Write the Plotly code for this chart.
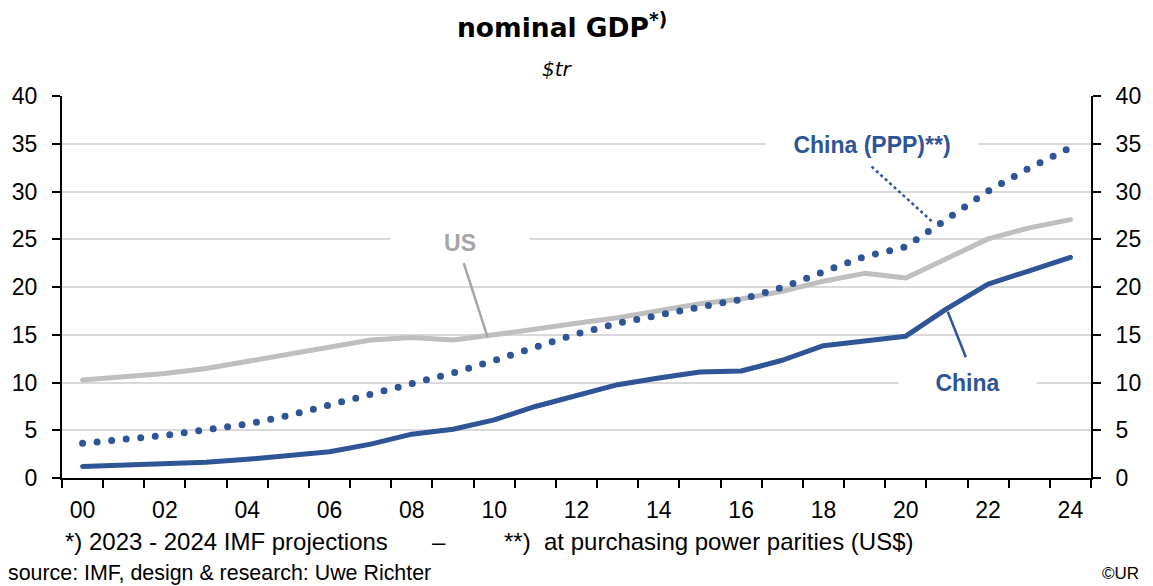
import plotly.graph_objects as go

# Nominal GDP, $ trillion (2023-2024: IMF projections)
years = list(range(2000, 2025))
us_gdp = [10.25, 10.58, 10.94, 11.46, 12.21, 13.04, 13.82, 14.45, 14.71, 14.45,
          14.99, 15.54, 16.20, 16.78, 17.53, 18.24, 18.75, 19.54, 20.61, 21.43,
          20.94, 23.00, 25.04, 26.19, 27.06]
china_gdp = [1.21, 1.34, 1.47, 1.66, 1.96, 2.29, 2.75, 3.55, 4.59, 5.10,
             6.09, 7.49, 8.57, 9.77, 10.48, 11.10, 11.20, 12.33, 13.85, 14.34,
             14.85, 17.73, 20.30, 21.70, 23.10]
china_ppp = [3.63, 4.02, 4.47, 5.05, 5.65, 6.53, 7.64, 8.90, 9.95, 11.00,
             12.29, 13.70, 15.08, 16.20, 17.10, 17.90, 18.70, 19.95, 21.60, 23.20,
             24.20, 27.15, 30.05, 32.45, 34.60]
x_labels = ["00", "02", "04", "06", "08", "10", "12", "14", "16", "18", "20", "22", "24"]

BLUE = "#2F5597"
GRAY = "#BFBFBF"
GRID = "#D9D9D9"
FONT = "Liberation Sans, Arial, sans-serif"
TITLE_FONT = "DejaVu Sans, Verdana, sans-serif"

fig = go.Figure()
fig.add_trace(go.Scatter(x=years, y=us_gdp, mode="lines",
                         line=dict(color=GRAY, width=5), name="US"))
fig.add_trace(go.Scatter(x=years, y=china_ppp, mode="lines",
                         line=dict(color=BLUE, width=7, dash="0px,14.6px"),
                         name="China (PPP)"))
fig.add_trace(go.Scatter(x=years, y=china_gdp, mode="lines",
                         line=dict(color=BLUE, width=5), name="China"))
# carrier for the right-hand axis
fig.add_trace(go.Scatter(x=[years[0]], y=[None], yaxis="y2", mode="lines",
                         showlegend=False, hoverinfo="skip"))

PLOT_L, PLOT_R, PLOT_T, PLOT_B = 61, 1099, 96, 478


def px_x(px):
    return (px - PLOT_L) / (PLOT_R - PLOT_L)


def px_y(py):
    return (PLOT_B - py) / (PLOT_B - PLOT_T)


yax = dict(range=[0, 40], dtick=5, tick0=0, showgrid=True, gridcolor=GRID,
           gridwidth=2, zeroline=False, showline=True, linecolor="black",
           linewidth=2, ticks="outside", ticklen=8, tickwidth=2,
           tickcolor="black", tickfont=dict(family=FONT, size=23, color="black"),
           ticklabelstandoff=10, fixedrange=True)

fig.update_layout(
    width=1153, height=586,
    margin=dict(l=PLOT_L, r=1153 - PLOT_R, t=PLOT_T, b=586 - PLOT_B),
    paper_bgcolor="white", plot_bgcolor="white",
    showlegend=False,
    xaxis=dict(range=[1999.5, 2024.5], tickvals=years[::2], ticktext=x_labels,
               showgrid=False, zeroline=False, showline=True, linecolor="black",
               linewidth=2, ticks="outside", ticklen=0, tickcolor="black",
               tickfont=dict(family=FONT, size=23, color="black"),
               ticklabelstandoff=10,
               minor=dict(tickvals=[y - 0.5 for y in years] + [2024.5],
                          ticks="outside", ticklen=8, tickwidth=2,
                          tickcolor="black", showgrid=False),
               fixedrange=True),
    yaxis=yax,
    yaxis2=dict(yax, overlaying="y", side="right", showgrid=False),
)

# series labels with white boxes that break the gridlines
labels = [
    ("US", 2009.16, 24.6, "#A6A6A6", 136),
    ("China (PPP)**)", 2019.19, 34.9, BLUE, 208),
    ("China", 2021.5, 9.95, BLUE, 135),
]
for text, x, y, col, w in labels:
    fig.add_annotation(x=x, y=y, xref="x", yref="y", text=f"<b>{text}</b>",
                       showarrow=False, bgcolor="white", width=w, height=30,
                       xanchor="center", yanchor="middle",
                       font=dict(family=FONT, size=23, color=col))

# leader lines from labels to series
fig.add_shape(type="line", x0=2009.26, y0=22.5, x1=2009.84, y1=14.75,
              line=dict(color="#A6A6A6", width=2.5))
fig.add_shape(type="line", x0=2019.17, y0=32.6, x1=2020.68, y1=26.7,
              line=dict(color=BLUE, width=2.5, dash="dot"))
fig.add_shape(type="line", x0=2021.02, y0=17.4, x1=2021.46, y1=12.65,
              line=dict(color=BLUE, width=2.5))


def note(text, px, py, size, anchor="center", family=FONT):
    fig.add_annotation(x=px_x(px), y=px_y(py), xref="paper", yref="paper",
                       xanchor=anchor, yanchor="middle", text=text,
                       showarrow=False,
                       font=dict(family=family, size=size, color="black"))


# title and unit
note("<b>nominal GDP<sup>*)</sup></b>", 565, 26, 26.5, family=TITLE_FONT)
note("<i>$tr</i>", 561, 69, 20, family=TITLE_FONT)

# footnotes
note("*) 2023 - 2024 IMF projections", 62, 541, 24, "left")
note("–", 441, 541, 24)
note("**)&nbsp;&nbsp;at purchasing power parities (US$)", 505, 541, 24, "left")
note("source: IMF, design &amp; research: Uwe Richter", 5, 573, 21.4, "left")
note("©UR", 1149, 573, 17, "right")

round_caps = (
    "var s=document.createElement('style');"
    "s.textContent='.scatterlayer .js-line{stroke-linecap:round;stroke-linejoin:round;}';"
    "document.head.appendChild(s);"
)
fig.write_html("out.html", config={"displayModeBar": False}, post_script=round_caps)
